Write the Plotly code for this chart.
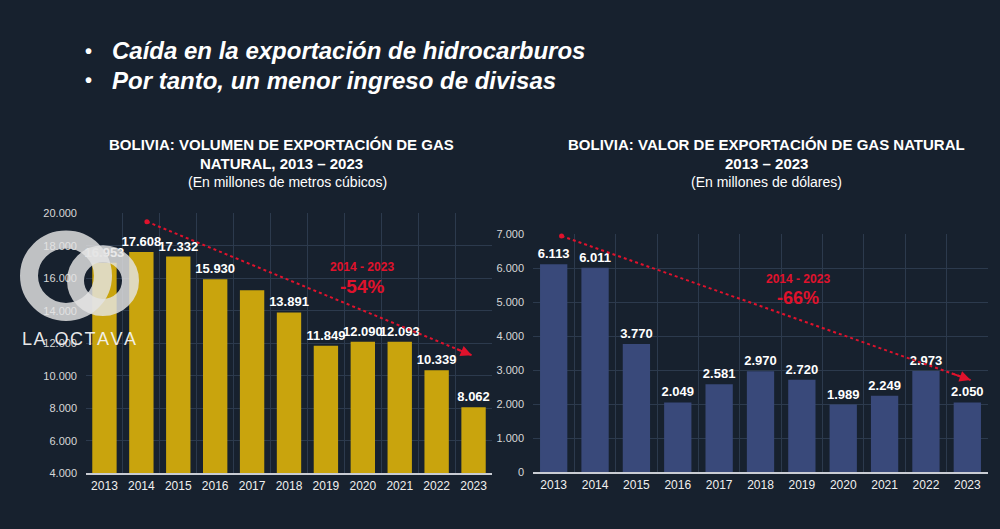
import plotly.graph_objects as go

years = [2013, 2014, 2015, 2016, 2017, 2018, 2019, 2020, 2021, 2022, 2023]
volumen = [16953, 17608, 17332, 15930, 15250, 13891, 11849, 12090, 12093, 10339, 8062]
volumen_labeled = [True, True, True, True, False, True, True, True, True, True, True]
valor = [6113, 6011, 3770, 2049, 2581, 2970, 2720, 1989, 2249, 2973, 2050]

trend_vol_x = [2014.15, 2022.95]
trend_vol_y = [19480, 11260]
trend_val_x = [2013.19, 2023.08]
trend_val_y = [6940, 2707]

vol_ticks = [4000, 6000, 8000, 10000, 12000, 14000, 16000, 18000, 20000]
val_ticks = [0, 1000, 2000, 3000, 4000, 5000, 6000, 7000]

W, H = 1000, 529
BG = "#17212e"
GRID = "#2c3a4d"
RED = "#e0122c"
FONT = "Liberation Sans, Arial, sans-serif"


def px(x):
    return x / W


def py(y):
    return 1 - y / H


def fmt(v):
    return f"{v:,}".replace(",", ".")


vol_text = [fmt(v) if show else "" for v, show in zip(volumen, volumen_labeled)]
val_text = [fmt(v) for v in valor]

fig = go.Figure()
fig.add_trace(go.Bar(x=years, y=volumen, text=vol_text, textposition="outside",
                     marker=dict(color="#c9a40d", line=dict(width=0)), width=0.66,
                     textfont=dict(color="white", size=13, family=FONT, weight="bold"),
                     cliponaxis=False, xaxis="x", yaxis="y", showlegend=False))
fig.add_trace(go.Bar(x=years, y=valor, text=val_text, textposition="outside",
                     marker=dict(color="#39497a", line=dict(width=0)), width=0.66,
                     textfont=dict(color="white", size=13, family=FONT, weight="bold"),
                     cliponaxis=False, xaxis="x2", yaxis="y2", showlegend=False))

for tx, ty, xa, ya in [(trend_vol_x, trend_vol_y, "x", "y"), (trend_val_x, trend_val_y, "x2", "y2")]:
    fig.add_trace(go.Scatter(x=tx, y=ty, mode="lines", line=dict(color=RED, width=2, dash="dot"),
                             xaxis=xa, yaxis=ya, showlegend=False, cliponaxis=False, hoverinfo="skip"))
    fig.add_trace(go.Scatter(x=[tx[0]], y=[ty[0]], mode="markers", marker=dict(color=RED, size=5),
                             xaxis=xa, yaxis=ya, showlegend=False, cliponaxis=False, hoverinfo="skip"))
    fig.add_annotation(x=tx[1], y=ty[1], ax=tx[1] - 0.05 * (tx[1] - tx[0]),
                       ay=ty[1] - 0.05 * (ty[1] - ty[0]), axref=xa, ayref=ya, xref=xa, yref=ya,
                       text="", showarrow=True, arrowhead=2, arrowsize=1.1, arrowwidth=2, arrowcolor=RED)

fig.update_layout(
    width=W, height=H, margin=dict(l=0, r=0, t=0, b=0),
    paper_bgcolor=BG, plot_bgcolor=BG, separators=",.",
    font=dict(family=FONT, color="white"),
    uniformtext=dict(minsize=13, mode="show"),
    xaxis=dict(domain=[px(86), px(492)], range=[2012.5, 2023.5], tickmode="array", tickvals=years,
               ticktext=[str(y) for y in years], showgrid=False, zeroline=False,
               tickfont=dict(size=12, color="#f0f0f0"), ticks="", anchor="y",
               minor=dict(tick0=2012.5, dtick=1, showgrid=True, gridcolor=GRID, gridwidth=1),
               showline=True, linecolor="#c9ccd3", linewidth=2),
    yaxis=dict(domain=[py(478), py(212)], range=[4000, 20000], tickvals=vol_ticks,
               ticktext=[fmt(v) for v in vol_ticks], showgrid=True, gridcolor=GRID,
               zeroline=False, tickfont=dict(size=11, color="#d8d8d8"), anchor="x", ticklabelstandoff=8),
    xaxis2=dict(domain=[px(533), px(988)], range=[2012.5, 2023.5], tickmode="array", tickvals=years,
                ticktext=[str(y) for y in years], showgrid=False, zeroline=False,
                tickfont=dict(size=12, color="#f0f0f0"), ticks="", anchor="y2",
                minor=dict(tick0=2012.5, dtick=1, showgrid=True, gridcolor=GRID, gridwidth=1),
                showline=True, linecolor="#c9ccd3", linewidth=2),
    yaxis2=dict(domain=[py(477), py(233.3)], range=[0, 7000], tickvals=val_ticks,
                ticktext=[fmt(v) for v in val_ticks], showgrid=True, gridcolor=GRID,
                zeroline=False, tickfont=dict(size=11, color="#d8d8d8"), anchor="x2", ticklabelstandoff=8),
)


def text(x, y, s, size, bold=False, italic=False, color="white", xanchor="center"):
    fig.add_annotation(x=px(x), y=py(y), xref="paper", yref="paper", text=s, showarrow=False,
                       xanchor=xanchor, yanchor="middle",
                       font=dict(family=FONT, size=size, color=color,
                                 weight="bold" if bold else "normal",
                                 style="italic" if italic else "normal"))


# header bullets
text(88, 46, "•", 20, bold=True)
text(88, 76, "•", 20, bold=True)
text(110, 46, "Caída en la exportación de hidrocarburos", 24, bold=True, italic=True, xanchor="left")
text(110, 76, "Por tanto, un menor ingreso de divisas", 24, bold=True, italic=True, xanchor="left")

# chart titles
text(281, 142, "BOLIVIA: VOLUMEN DE EXPORTACIÓN DE GAS", 15, bold=True)
text(281, 161, "NATURAL, 2013 – 2023", 15, bold=True)
text(287, 180, "(En millones de metros cúbicos)", 14)
text(766, 142, "BOLIVIA: VALOR DE EXPORTACIÓN DE GAS NATURAL", 15, bold=True)
text(766, 161, "2013 – 2023", 15, bold=True)
text(766, 180, "(En millones de dólares)", 14)

# red change annotations
text(362, 267, "2014 - 2023", 12, bold=True, color=RED)
text(362, 287, "-54%", 19, bold=True, color=RED)
text(798, 279, "2014 - 2023", 12, bold=True, color=RED)
text(798, 299, "-66%", 18, bold=True, color=RED)

# watermark
for cx, cy, r, w in [(66, 276, 37, 18), (103, 281, 27.5, 17)]:
    fig.add_shape(type="circle", xref="paper", yref="paper",
                  x0=px(cx - r), x1=px(cx + r), y0=py(cy + r), y1=py(cy - r),
                  line=dict(color="rgba(228,228,228,0.82)", width=w), fillcolor="rgba(0,0,0,0)")
text(79, 341, "L A  O C T A V A".replace("  ", "\u2002").replace(" ", "\u200a"), 18,
     color="rgba(245,245,245,0.95)")

fig.write_html("out.html", config={"displayModeBar": False},
               post_script="document.body.style.margin='0';")
